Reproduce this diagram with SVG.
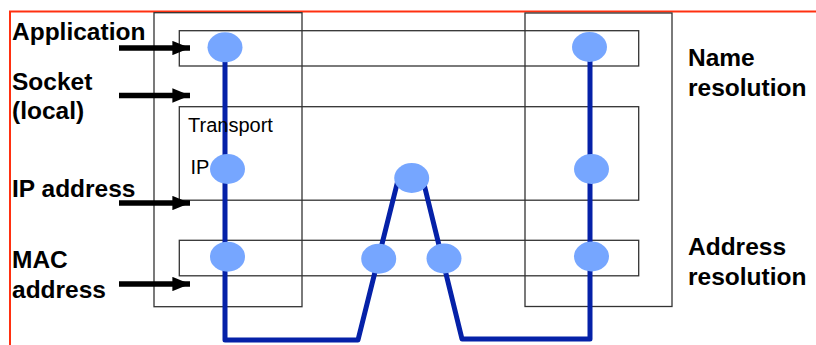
<svg xmlns="http://www.w3.org/2000/svg" width="816" height="345" viewBox="0 0 816 345">
<defs>
<style>
.box{fill:none;stroke:#333;stroke-width:1.3}
.wire{fill:none;stroke:#0521a8;stroke-width:5;stroke-linejoin:round;stroke-linecap:round}
.node{fill:#76a6ff}
.lbl{font-family:"Liberation Sans",Arial,sans-serif;font-weight:bold;font-size:24.5px;fill:#000}
.sm{font-family:"Liberation Sans",Arial,sans-serif;font-size:20px;fill:#000}
.arr{stroke:#000;stroke-width:5.5;fill:none}
</style>
<marker id="ah" viewBox="0 0 10 10" refX="10" refY="5" markerWidth="3.2" markerHeight="2.6" markerUnits="strokeWidth" orient="auto" preserveAspectRatio="none">
<path d="M0,0 L10,5 L0,10 z" fill="#000"/>
</marker>
</defs>
<rect width="816" height="345" fill="#fff"/>
<g id="frame">
<path d="M10,345 V11.5 H816" fill="none" stroke="#ff3010" stroke-width="2"/>
</g>
<g id="host-left"><rect class="box" x="154" y="12.7" width="148" height="294"/></g>
<g id="host-right"><rect class="box" x="525" y="13" width="147" height="293.5"/></g>
<g id="layer-application"><rect class="box" x="179.3" y="30.7" width="459.4" height="35.3"/></g>
<g id="layer-transport"><rect class="box" x="179.3" y="106.7" width="459.4" height="93.5"/></g>
<g id="layer-mac"><rect class="box" x="179.3" y="240.3" width="459.4" height="35.5"/></g>
<g id="connectors">
<polyline class="wire" points="225,47 225,340 358,340 398,180"/>
<polyline class="wire" points="423,180 462,339 590,339 590,47"/>
<line class="arr" x1="119" y1="48" x2="190" y2="48" marker-end="url(#ah)"/>
<line class="arr" x1="119" y1="95.5" x2="190" y2="95.5" marker-end="url(#ah)"/>
<line class="arr" x1="119" y1="203" x2="190" y2="203" marker-end="url(#ah)"/>
<line class="arr" x1="119" y1="284" x2="190" y2="284" marker-end="url(#ah)"/>
</g>
<g id="node-left-app"><ellipse class="node" cx="225" cy="47.3" rx="17.5" ry="15"/></g>
<g id="node-left-ip"><ellipse class="node" cx="227.5" cy="169" rx="17.5" ry="15"/></g>
<g id="node-left-mac"><ellipse class="node" cx="227.5" cy="256.7" rx="17.5" ry="15"/></g>
<g id="node-right-app"><ellipse class="node" cx="589.5" cy="47" rx="17.5" ry="15"/></g>
<g id="node-right-ip"><ellipse class="node" cx="591.5" cy="169" rx="17.5" ry="15"/></g>
<g id="node-right-mac"><ellipse class="node" cx="591.5" cy="256.5" rx="17.5" ry="15"/></g>
<g id="node-router-ip"><ellipse class="node" cx="411.7" cy="178" rx="17.5" ry="15"/></g>
<g id="node-router-mac1"><ellipse class="node" cx="378.7" cy="258.7" rx="17.5" ry="15"/></g>
<g id="node-router-mac2"><ellipse class="node" cx="444" cy="258.5" rx="17.5" ry="15"/></g>
<g id="labels">
<text class="lbl" x="12" y="40">Application</text>
<text class="lbl" x="12" y="90">Socket</text>
<text class="lbl" x="12" y="119">(local)</text>
<text class="lbl" x="12" y="197">IP address</text>
<text class="lbl" x="12" y="268">MAC</text>
<text class="lbl" x="12" y="298">address</text>
<text class="lbl" x="688" y="66">Name</text>
<text class="lbl" x="688" y="95.5">resolution</text>
<text class="lbl" x="688" y="255">Address</text>
<text class="lbl" x="688" y="285">resolution</text>
<text class="sm" x="188" y="132">Transport</text>
<text class="sm" x="190.5" y="174">IP</text>
</g>
</svg>
